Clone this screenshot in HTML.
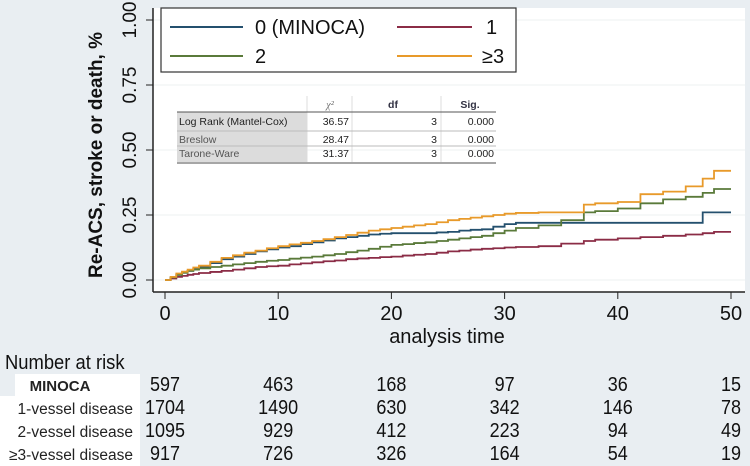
<!DOCTYPE html>
<html><head><meta charset="utf-8"><style>
body{margin:0;width:750px;height:466px;background:#e9eef2;overflow:hidden;font-family:"Liberation Sans",sans-serif}
svg{position:absolute;left:0;top:0}
</style></head><body>
<svg width="750" height="466">
<rect x="153" y="8" width="592" height="284" fill="#ffffff"/>
<g id="grid"></g>
<line x1="153" y1="8" x2="153" y2="292" stroke="#222" stroke-width="1.5"/>
<line x1="153" y1="292" x2="745" y2="292" stroke="#222" stroke-width="1.5"/>
<g id="yt"></g>
<g id="xt"></g>
<text transform="translate(102,155) rotate(-90)" text-anchor="middle" font-size="19" font-weight="bold" fill="#111">Re-ACS, stroke or death, %</text>
<text x="447" y="343" text-anchor="middle" font-size="20" fill="#111">analysis time</text>
<g id="series"></g>
<g>
<rect x="161" y="8" width="355" height="64" fill="#fff" stroke="#333" stroke-width="1.2"/>
<line x1="170" y1="27" x2="243" y2="27" stroke="#24506e" stroke-width="2"/>
<text x="255" y="34" font-size="20" fill="#111">0 (MINOCA)</text>
<line x1="397" y1="27" x2="472" y2="27" stroke="#8b2c46" stroke-width="2"/>
<text x="486" y="34" font-size="20" fill="#111">1</text>
<line x1="170" y1="56" x2="243" y2="56" stroke="#5a7a3a" stroke-width="2"/>
<text x="255" y="63" font-size="20" fill="#111">2</text>
<line x1="397" y1="56" x2="472" y2="56" stroke="#e89a2a" stroke-width="2"/>
<text x="482" y="63" font-size="20" fill="#111">≥3</text>
</g>
<g font-size="10.5" fill="#222">
<rect x="177" y="112" width="130" height="50" fill="#dcdcdc"/>
<line x1="307" y1="96" x2="307" y2="162" stroke="#ddd"/>
<line x1="352" y1="96" x2="352" y2="162" stroke="#ddd"/>
<line x1="441" y1="96" x2="441" y2="162" stroke="#ddd"/>
<line x1="177" y1="112" x2="496" y2="112" stroke="#555"/>
<line x1="177" y1="131" x2="496" y2="131" stroke="#bbb"/>
<line x1="177" y1="146" x2="496" y2="146" stroke="#bbb"/>
<line x1="177" y1="163" x2="496" y2="163" stroke="#888" stroke-width="1.5"/>
<text x="330" y="108" text-anchor="middle" font-family="Liberation Serif" font-style="italic" fill="#777">χ²</text>
<text x="393" y="108" text-anchor="middle" font-weight="bold" fill="#334">df</text>
<text x="470" y="108" text-anchor="middle" font-weight="bold" fill="#334">Sig.</text>
<text x="179" y="125">Log Rank (Mantel-Cox)</text><text x="349" y="125" text-anchor="end">36.57</text><text x="437" y="125" text-anchor="end">3</text><text x="494" y="125" text-anchor="end">0.000</text>
<text x="179" y="143" fill="#555">Breslow</text><text x="349" y="143" text-anchor="end">28.47</text><text x="437" y="143" text-anchor="end">3</text><text x="494" y="143" text-anchor="end">0.000</text>
<text x="179" y="157" fill="#555">Tarone-Ware</text><text x="349" y="157" text-anchor="end">31.37</text><text x="437" y="157" text-anchor="end">3</text><text x="494" y="157" text-anchor="end">0.000</text>
</g>
<rect x="0" y="396" width="140" height="70" fill="#fff"/>
<rect x="15" y="374" width="125" height="22" fill="#fff"/>
<text x="5" y="369" font-size="20" fill="#111" transform="translate(5,0) scale(0.92,1) translate(-5,0)">Number at risk</text>
<g id="risk"></g>
</svg>
<script>
const times=[0,0.5,1,1.5,2,2.5,3,4,5,6,7,8,9,10,11,12,13,14,15,16,17,18,19,20,21,22,23,24,25,26,27,28,29,30,31,33,35,37,38,40,42,44,46,47.5,48.5,50];
const s0=[0,.01,.02,.028,.035,.042,.05,.065,.08,.09,.10,.11,.118,.125,.13,.138,.145,.152,.16,.165,.17,.175,.178,.18,.18,.18,.18,.183,.185,.19,.193,.195,.205,.215,.22,.22,.22,.22,.22,.22,.22,.22,.22,.26,.26,.26];
const s1=[0,.006,.012,.016,.02,.023,.027,.031,.035,.04,.045,.05,.053,.055,.06,.064,.068,.072,.075,.08,.083,.085,.088,.09,.094,.097,.10,.105,.11,.113,.117,.12,.122,.125,.127,.13,.14,.15,.155,.16,.165,.17,.175,.18,.185,.185];
const s2=[0,.01,.02,.028,.035,.04,.045,.05,.055,.06,.065,.07,.074,.077,.082,.086,.09,.095,.10,.107,.113,.12,.128,.135,.138,.142,.145,.15,.155,.16,.165,.17,.18,.19,.20,.21,.23,.26,.265,.275,.295,.31,.32,.335,.35,.35];
const s3=[0,.012,.025,.032,.04,.048,.055,.07,.085,.095,.105,.113,.122,.13,.137,.143,.15,.157,.165,.173,.182,.19,.195,.20,.205,.21,.215,.222,.23,.235,.24,.245,.25,.255,.258,.26,.26,.29,.295,.30,.33,.34,.36,.39,.42,.42];
const yTicks=["0.00","0.25","0.50","0.75","1.00"];
const xTicks=[0,10,20,30,40,50];
const riskLabels=["MINOCA","1-vessel disease","2-vessel disease","≥3-vessel disease"];
const risk=[[597,463,168,97,36,15],[1704,1490,630,342,146,78],[1095,929,412,223,94,49],[917,726,326,164,54,19]];
const X=t=>165+t*11.32, Y=v=>280-v*260;
const NS="http://www.w3.org/2000/svg";
function mk(tag,attrs,parent,txt){const e=document.createElementNS(NS,tag);for(const k in attrs)e.setAttribute(k,attrs[k]);if(txt!=null)e.textContent=txt;document.getElementById(parent).appendChild(e);return e;}
yTicks.forEach((l,i)=>{const v=parseFloat(l),y=Y(v);
 const g=mk('line',{x1:153,x2:745,y1:y,y2:y,stroke:'#eef0f2'},'grid');
 const t=mk('line',{x1:146,x2:153,y1:y,y2:y,stroke:'#222'},'yt');
 const tx=mk('text',{transform:`translate(136,${y}) rotate(-90)`,'text-anchor':'middle','font-size':19,fill:'#111'},'yt',l);});
xTicks.forEach(v=>{const x=X(v);
 const t=mk('line',{x1:x,x2:x,y1:292,y2:299,stroke:'#222'},'xt');
 const tx=mk('text',{x:x,y:320,'text-anchor':'middle','font-size':20,fill:'#111'},'xt',v);});
const cols=['#24506e','#8b2c46','#5a7a3a','#e89a2a'];
[s0,s1,s2,s3].forEach((s,k)=>{let d=`M${X(times[0])},${Y(s[0])}`;
 for(let i=1;i<times.length;i++){d+=`H${X(times[i])}V${Y(s[i])}`;}
 const p=mk('path',{d:d,fill:'none',stroke:cols[k],'stroke-width':1.8},'series');
 
 });
riskLabels.forEach((l,r)=>{const y=391+r*23;
 const t=mk('text',{x:r==0?60:133,y:y,'text-anchor':r==0?'middle':'end','font-size':r==0?15:15.5,'font-weight':r==0?'bold':'normal',fill:'#222'},'risk',l);
 
 
 risk[r].forEach((n,c)=>{const e=mk('text',{x:X(xTicks[c]),y:y,'text-anchor':'middle','font-size':20,fill:'#111',transform:`translate(${X(xTicks[c])},0) scale(0.9,1) translate(${-X(xTicks[c])},0)`},'risk',n);
 
 });});
</script>
</body></html>
